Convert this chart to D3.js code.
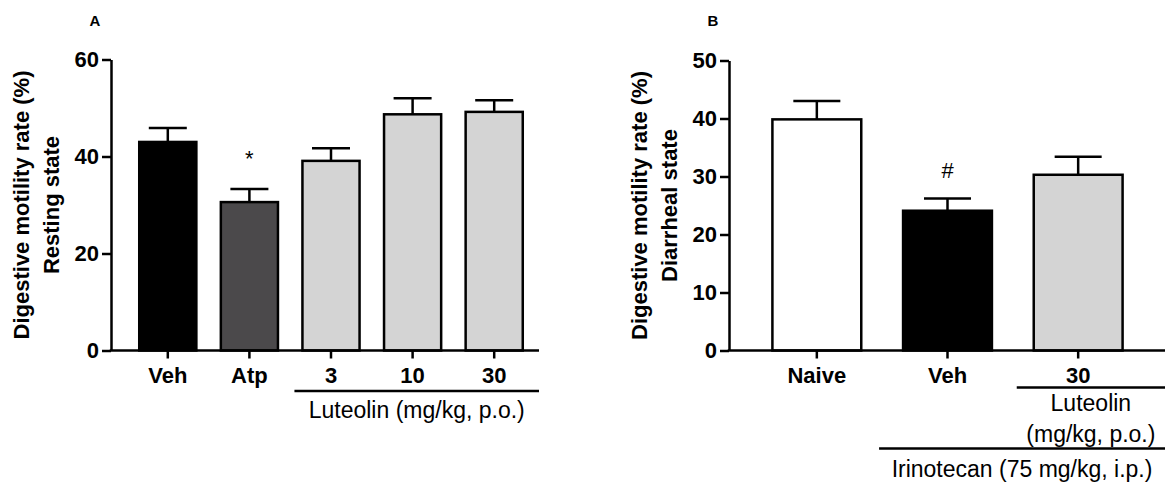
<!DOCTYPE html>
<html>
<head>
<meta charset="utf-8">
<script src="https://cdn.jsdelivr.net/npm/d3@7"></script>
<style>
  body { margin: 0; background: #fff; }
  svg { display: block; font-family: "Liberation Sans", Arial, sans-serif; }
</style>
</head>
<body>
<div id="chart"></div>
<script>
// Panel A - resting state
const catsA = ["Veh", "Atp", "3", "10", "30"];
const meansA = [43.0, 30.6, 39.1, 48.7, 49.2];
const semA = [2.9, 2.7, 2.6, 3.3, 2.4];
const ticksA = [0, 20, 40, 60];
const marksA = [{ cat: "Atp", text: "*", value: 39.6 }];

// Panel B - diarrheal state
const catsB = ["Naive", "Veh", "30"];
const meansB = [39.85, 24.1, 30.3];
const semB = [3.15, 2.1, 3.1];
const ticksB = [0, 10, 20, 30, 40, 50];
const marksB = [{ cat: "Veh", text: "#", value: 31.1 }];

const svg = d3.select("#chart").append("svg")
    .attr("width", 1165)
    .attr("height", 484);

const lw = 2.5;

function drawPanel(opt) {
    const g = svg.append("g");

    const y = d3.scaleLinear()
        .domain([0, opt.ymax])
        .range([opt.y0, opt.ytop]);

    const x = d3.scaleBand()
        .domain(opt.cats)
        .range(opt.xrange)
        .paddingInner(opt.pad)
        .paddingOuter(opt.pad / 2);

    // bars
    g.selectAll(".bar")
        .data(opt.cats)
        .enter().append("rect")
        .attr("x", d => x(d))
        .attr("y", (d, i) => y(opt.means[i]))
        .attr("width", x.bandwidth())
        .attr("height", (d, i) => y(0) - y(opt.means[i]))
        .attr("fill", (d, i) => opt.fills[i])
        .attr("stroke", "#000")
        .attr("stroke-width", lw);

    // error bars (upper only)
    const err = g.selectAll(".err")
        .data(opt.cats)
        .enter().append("g");
    err.append("line")
        .attr("x1", d => x(d) + x.bandwidth() / 2)
        .attr("x2", d => x(d) + x.bandwidth() / 2)
        .attr("y1", (d, i) => y(opt.means[i]))
        .attr("y2", (d, i) => y(opt.means[i] + opt.sem[i]))
        .attr("stroke", "#000").attr("stroke-width", lw);
    err.append("line")
        .attr("x1", d => x(d) + x.bandwidth() / 2 - opt.cap / 2)
        .attr("x2", d => x(d) + x.bandwidth() / 2 + opt.cap / 2)
        .attr("y1", (d, i) => y(opt.means[i] + opt.sem[i]))
        .attr("y2", (d, i) => y(opt.means[i] + opt.sem[i]))
        .attr("stroke", "#000").attr("stroke-width", lw);

    // significance marks
    g.selectAll(".mark")
        .data(opt.marks)
        .enter().append("text")
        .attr("x", d => x(d.cat) + x.bandwidth() / 2)
        .attr("y", d => y(d.value))
        .attr("dy", "0.35em")
        .attr("text-anchor", "middle")
        .style("font-size", "22px")
        .text(d => d.text);

    // y axis
    const yAxis = g.append("g")
        .attr("transform", `translate(${opt.xaxis},0)`)
        .call(d3.axisLeft(y).tickValues(opt.ticks).tickSize(9).tickPadding(3).tickSizeOuter(0));

    // x axis
    const xAxis = g.append("g")
        .attr("transform", `translate(0,${opt.y0})`)
        .call(d3.axisBottom(x).tickSize(8).tickPadding(9).tickSizeOuter(0));
    xAxis.select(".domain").remove();
    g.append("line")
        .attr("x1", opt.xaxis - lw / 2).attr("x2", opt.xend)
        .attr("y1", opt.y0).attr("y2", opt.y0)
        .attr("stroke", "#000").attr("stroke-width", lw);

    [yAxis, xAxis].forEach(a => {
        a.selectAll("path, line").attr("stroke", "#000").attr("stroke-width", lw);
        a.selectAll("text")
            .attr("fill", "#000")
            .style("font-size", "22px")
            .style("font-weight", "bold")
            .style("font-family", "'Liberation Sans', Arial, sans-serif");
    });

    // y title, two lines
    const cy = (opt.y0 + opt.ytop) / 2;
    opt.ytitle.forEach((t, i) => {
        g.append("text")
            .attr("transform", `translate(${opt.xaxis - 82 + i * 30},${cy}) rotate(-90)`)
            .attr("text-anchor", "middle")
            .style("font-size", "22px")
            .style("font-weight", "bold")
            .text(t);
    });

    // panel letter
    g.append("text")
        .attr("x", opt.xaxis - 16)
        .attr("y", 26)
        .attr("text-anchor", "middle")
        .style("font-size", "15px")
        .style("font-weight", "bold")
        .text(opt.letter);

    // group brackets under x axis
    opt.groups.forEach(gr => {
        const x1 = x(gr.from) - gr.off;
        const x2 = opt.xend;
        g.append("line")
            .attr("x1", x1).attr("x2", x2)
            .attr("y1", gr.y).attr("y2", gr.y)
            .attr("stroke", "#000").attr("stroke-width", lw);
        gr.lines.forEach((t, i) => {
            g.append("text")
                .attr("x", (x1 + x2) / 2)
                .attr("y", gr.y + gr.first + i * 31)
                .attr("text-anchor", "middle")
                .style("font-size", "23px")
                .text(t);
        });
    });
}

drawPanel({
    letter: "A",
    cats: catsA, means: meansA, sem: semA, ticks: ticksA, marks: marksA,
    fills: ["#000000", "#4b494b", "#d4d4d4", "#d4d4d4", "#d4d4d4"],
    ymax: 60, y0: 350.5, ytop: 59.5,
    xaxis: 111, xend: 539, xrange: [127, 535], pad: 0.3, cap: 38,
    ytitle: ["Digestive motility rate (%)", "Resting state"],
    groups: [{ from: "3", off: 8, y: 391, first: 27, lines: ["Luteolin (mg/kg, p.o.)"] }]
});

drawPanel({
    letter: "B",
    cats: catsB, means: meansB, sem: semB, ticks: ticksB, marks: marksB,
    fills: ["#ffffff", "#000000", "#d4d4d4"],
    ymax: 50, y0: 350.5, ytop: 60.5,
    xaxis: 729, xend: 1165, xrange: [751.5, 1143.5], pad: 0.32, cap: 47,
    ytitle: ["Digestive motility rate (%)", "Diarrheal state"],
    groups: [
        { from: "30", off: 17, y: 387.5, first: 23, lines: ["Luteolin", "(mg/kg, p.o.)"] },
        { from: "Veh", off: 24, y: 448.5, first: 28, lines: ["Irinotecan (75 mg/kg, i.p.)"] }
    ]
});
</script>
</body>
</html>
